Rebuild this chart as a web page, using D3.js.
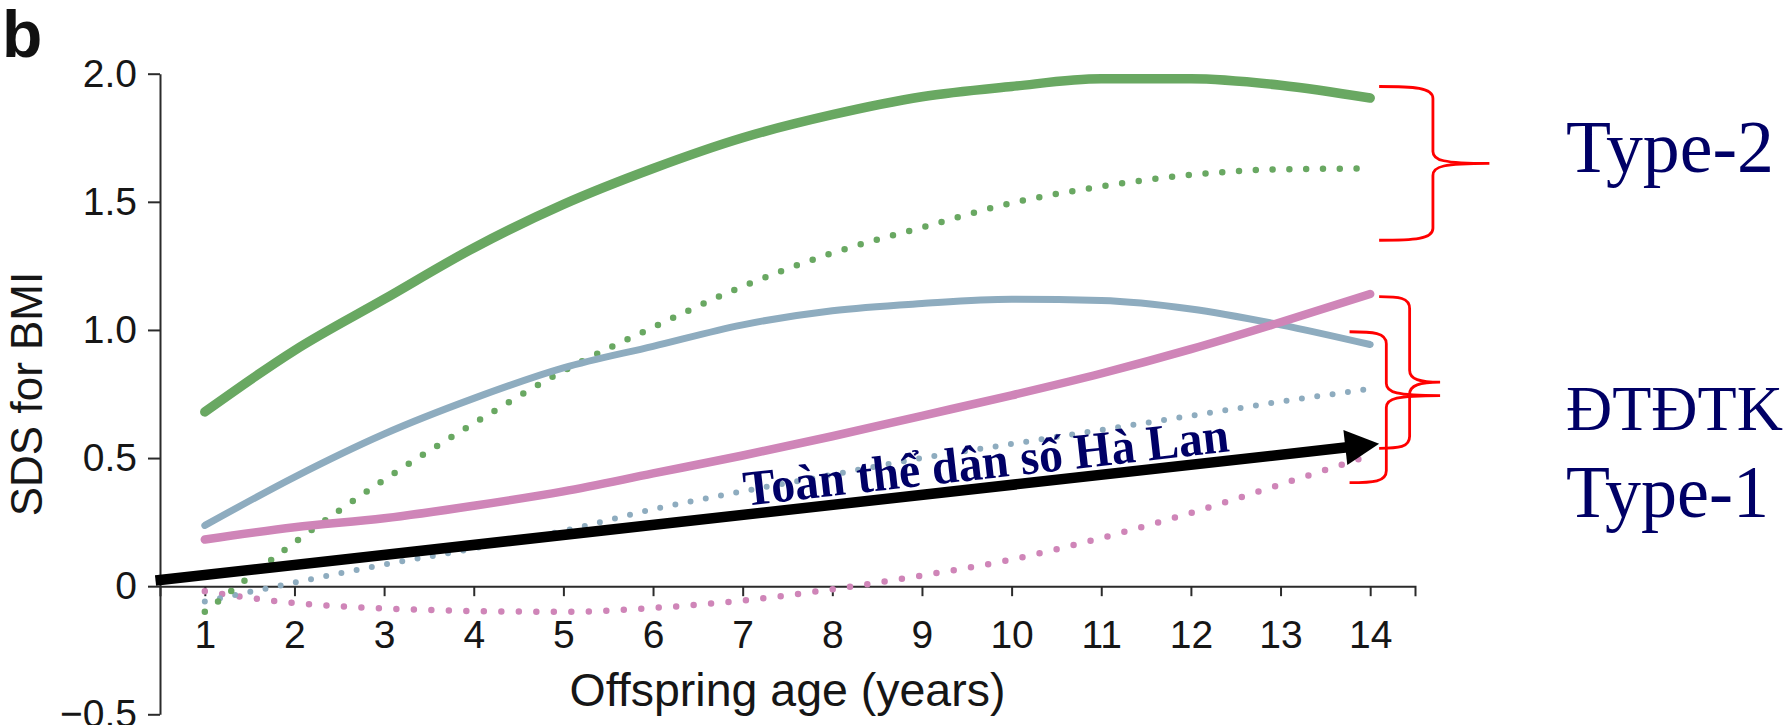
<!DOCTYPE html>
<html>
<head>
<meta charset="utf-8">
<script src="https://cdn.jsdelivr.net/npm/d3@7"></script>
<style>
  body { margin: 0; background: #fff; }
  svg { display: block; }
</style>
</head>
<body>
<svg id="chart" width="1787" height="725"></svg>
<script>
// Offspring age (years)
const ages = [1, 2, 3, 4, 5, 6, 7, 8, 9, 10, 11, 12, 13, 14];

// SDS for BMI by offspring age
const type2Solid   = [0.68, 0.92, 1.12, 1.32, 1.49, 1.63, 1.75, 1.84, 1.91, 1.95, 1.98, 1.98, 1.955, 1.905];
const type2Dotted  = [-0.10, 0.17, 0.415, 0.635, 0.84, 1.01, 1.17, 1.30, 1.40, 1.495, 1.56, 1.605, 1.627, 1.63];
const blueSolid    = [0.237, 0.426, 0.594, 0.733, 0.852, 0.936, 1.02, 1.075, 1.103, 1.12, 1.115, 1.082, 1.02, 0.943];
const blueDotted   = [-0.06, 0.014, 0.084, 0.147, 0.216, 0.30, 0.37, 0.435, 0.50, 0.555, 0.61, 0.665, 0.72, 0.77];
const pinkSolid    = [0.182, 0.23, 0.265, 0.314, 0.37, 0.44, 0.51, 0.585, 0.665, 0.745, 0.83, 0.925, 1.03, 1.14];
const pinkDotted   = [-0.02, -0.066, -0.087, -0.097, -0.10, -0.085, -0.056, -0.012, 0.042, 0.104, 0.188, 0.286, 0.397, 0.51];

// Whole-population trend (start and end)
const populationAges = [0.45, 14.1];
const populationSds  = [0.022, 0.556];

// Axis ticks
const xTickValues = [1, 2, 3, 4, 5, 6, 7, 8, 9, 10, 11, 12, 13, 14];
const yTickValues = [-0.5, 0, 0.5, 1.0, 1.5, 2.0];
const yTickLabels = ["\u22120.5", "0", "0.5", "1.0", "1.5", "2.0"];

const svg = d3.select("#chart");

const x = d3.scaleLinear().domain([0.5, 14.5]).range([160, 1415]);
const y = d3.scaleLinear().domain([-0.5, 2.0]).range([714.3, 73.7]);

const sans = "'Liberation Sans', Arial, Helvetica, sans-serif";
const serif = "'Liberation Serif', 'Times New Roman', serif";
const axisColor = "#2b2b2b";
const textColor = "#161616";
const navy = "#000066";

// Panel letter
svg.append("text")
  .attr("x", 2).attr("y", 57)
  .attr("font-family", sans).attr("font-weight", "bold")
  .attr("font-size", 66).attr("fill", "#111")
  .text("b");

// Y axis
const yAxis = svg.append("g")
  .attr("transform", `translate(${x(0.5)},0)`)
  .call(d3.axisLeft(y)
    .tickValues(yTickValues)
    .tickFormat((d, i) => yTickLabels[i])
    .tickSize(12).tickSizeOuter(0).tickPadding(11));

// X axis at SDS = 0
const xAxis = svg.append("g")
  .attr("transform", `translate(0,${y(0)})`)
  .call(d3.axisBottom(x)
    .tickValues(xTickValues)
    .tickFormat(d3.format("d"))
    .tickSize(10).tickSizeOuter(10).tickPadding(24));

[yAxis, xAxis].forEach(g => {
  g.selectAll("path.domain").attr("stroke", axisColor).attr("stroke-width", 2);
  g.selectAll(".tick line").attr("stroke", axisColor).attr("stroke-width", 2);
  g.selectAll(".tick text")
    .attr("font-family", sans).attr("font-size", 39).attr("fill", textColor);
});

// Axis titles
svg.append("text")
  .attr("x", (x(0.5) + x(14.5)) / 2).attr("y", 706)
  .attr("text-anchor", "middle")
  .attr("font-family", sans).attr("font-size", 46.5).attr("fill", textColor)
  .text("Offspring age (years)");

svg.append("text")
  .attr("transform", "translate(42,394) rotate(-90)")
  .attr("text-anchor", "middle")
  .attr("font-family", sans).attr("font-size", 44).attr("fill", textColor)
  .text("SDS for BMI");

// Series
const line = d3.line()
  .x(d => x(d[0]))
  .y(d => y(d[1]))
  .curve(d3.curveMonotoneX);

const green = "#69a862", blue = "#8eacbf", pink = "#cf85b8";

const series = [
  { values: pinkDotted,  color: pink,  dotted: true,  width: 6.5, gap: 17.5 },
  { values: blueDotted,  color: blue,  dotted: true,  width: 6,   gap: 15.5 },
  { values: type2Dotted, color: green, dotted: true,  width: 6.5, gap: 16.8 },
  { values: blueSolid,   color: blue,  dotted: false, width: 7 },
  { values: pinkSolid,   color: pink,  dotted: false, width: 8.5 },
  { values: type2Solid,  color: green, dotted: false, width: 9.5 }
];

series.forEach(s => {
  const p = svg.append("path")
    .datum(ages.map((a, i) => [a, s.values[i]]))
    .attr("d", line)
    .attr("fill", "none")
    .attr("stroke", s.color)
    .attr("stroke-width", s.width)
    .attr("stroke-linecap", "round")
    .attr("stroke-linejoin", "round");
  if (s.dotted) p.attr("stroke-dasharray", `0 ${s.gap}`);
});

// Whole-population arrow
const ax0 = x(populationAges[0]), ay0 = y(populationSds[0]);
const ax1 = x(populationAges[1]), ay1 = y(populationSds[1]);
const len = Math.hypot(ax1 - ax0, ay1 - ay0);
const ux = (ax1 - ax0) / len, uy = (ay1 - ay0) / len;
const headLen = 34, headHalf = 17.5;
const bx = ax1 - ux * headLen, by = ay1 - uy * headLen;

svg.append("line")
  .attr("x1", ax0).attr("y1", ay0)
  .attr("x2", bx + ux * 2).attr("y2", by + uy * 2)
  .attr("stroke", "#000").attr("stroke-width", 10.5);

svg.append("path")
  .attr("d", `M${ax1},${ay1} L${bx - uy * headHalf},${by + ux * headHalf} L${bx + uy * headHalf},${by - ux * headHalf} Z`)
  .attr("fill", "#000");

svg.append("text")
  .attr("transform", `translate(${x(7.03)},${y(0.314)}) rotate(-6.4)`)
  .attr("font-family", serif).attr("font-weight", "bold")
  .attr("font-size", 50).attr("fill", navy)
  .attr("textLength", 488).attr("lengthAdjust", "spacingAndGlyphs")
  .text("Toàn thể dân số Hà Lan");

// Group braces
function bracePath(armAge, spineAge, tipAge, top, mid, bottom) {
  const xa = x(armAge), xs = x(spineAge), xt = x(tipAge);
  const yt = y(top), ym = y(mid), yb = y(bottom);
  const r = 12;
  const ca = xa + (xs - xa) * 0.65;
  return `M${xa},${yt} C${ca},${yt} ${xs},${yt + 1} ${xs},${yt + r}` +
         ` L${xs},${ym - r} C${xs},${ym - 3} ${xs + 10},${ym} ${xt},${ym}` +
         ` M${xt},${ym} C${xs + 10},${ym} ${xs},${ym + 3} ${xs},${ym + r}` +
         ` L${xs},${yb - r} C${xs},${yb - 1} ${ca},${yb} ${xa},${yb}`;
}

const braces = [
  [14.1, 14.7, 15.33, 1.95, 1.65, 1.35],
  [14.1, 14.44, 14.78, 1.13, 0.796, 0.538],
  [13.77, 14.18, 14.78, 0.993, 0.744, 0.404]
];
braces.forEach(b => {
  svg.append("path")
    .attr("d", bracePath(...b))
    .attr("fill", "none")
    .attr("stroke", "#ff0000")
    .attr("stroke-width", 2.8);
});

// Group labels
const groupLabels = [
  { text: "Type-2", y: 172, size: 74, width: 208 },
  { text: "ĐTĐTK",  y: 430, size: 63, width: 217 },
  { text: "Type-1", y: 517, size: 73, width: 203 }
];
groupLabels.forEach(l => {
  svg.append("text")
    .attr("x", 1566).attr("y", l.y)
    .attr("font-family", serif).attr("font-size", l.size)
    .attr("fill", navy)
    .attr("textLength", l.width).attr("lengthAdjust", "spacingAndGlyphs")
    .text(l.text);
});
</script>
</body>
</html>
